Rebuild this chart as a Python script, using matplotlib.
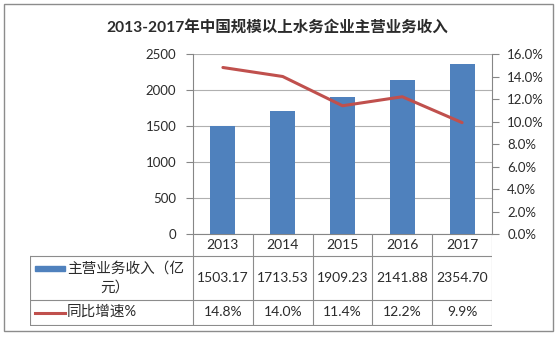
import matplotlib.pyplot as plt
from matplotlib.patches import Rectangle

plt.rcParams['font.family'] = ['Lato', 'Noto Sans CJK SC']

# 数据
years = ['2013', '2014', '2015', '2016', '2017']
revenue = [1503.17, 1713.53, 1909.23, 2141.88, 2354.70]   # 亿元
growth = [14.8, 14.0, 11.4, 12.2, 9.9]                      # %

title = '2013-2017年中国规模以上水务企业主营业务收入'
bar_label = ['主营业务收入（亿', '元）']
line_label = '同比增速%'

BLUE = '#4F81BD'
RED = '#C0504D'
GRID = '#b0b0b0'
TXT = '#2b2b2b'

# 画布尺寸（像素）
W, H = 557, 343
fig = plt.figure(figsize=(W / 100, H / 100), dpi=100)


def box(x0, y0, x1, y1):
    # 像素坐标(左上角原点) -> figure 比例
    return [x0 / W, 1 - y1 / H, (x1 - x0) / W, (y1 - y0) / H]


# 外框
fig.add_artist(Rectangle((4 / W, 1 - 331 / H), 549 / W, 327 / H,
                         transform=fig.transFigure, fill=False,
                         ec='#8c8c8c', lw=1))

fig.text(277 / W, 1 - 27 / H, title, ha='center', va='center',
         fontsize=11.2, fontweight='bold', color=TXT)

# 主图：柱状 + 折线
ax = fig.add_axes(box(193, 54, 492, 234))
x = list(range(len(years)))
ax.bar(x, revenue, width=0.42, color=BLUE, zorder=3)
ax.set_xlim(-0.5, len(years) - 0.5)
ax.set_ylim(0, 2500)
ax.set_yticks(range(0, 2501, 500))
ax.set_xticks([])
ax.grid(axis='y', color=GRID, lw=0.8, zorder=0)
ax.spines['top'].set_visible(False)
ax.spines['right'].set_visible(False)
ax.spines['left'].set_color('#868686')
ax.spines['bottom'].set_color('#868686')
ax.tick_params(axis='y', length=5, width=0.8, color='#868686',
               labelsize=9.5, labelcolor=TXT, pad=7)

ax2 = ax.twinx()
ax2.plot(x, growth, color=RED, lw=2.2, solid_capstyle='round')
ax2.set_ylim(0, 16)
ax2.set_yticks(range(0, 17, 2))
ax2.yaxis.set_major_formatter(lambda v, p: f'{v:.1f}%')
for s in ['top', 'left', 'bottom']:
    ax2.spines[s].set_visible(False)
ax2.spines['right'].set_color('#868686')
ax2.tick_params(axis='y', length=5, width=0.8, color='#868686',
                labelsize=9.5, labelcolor=TXT, pad=6)

# 数据表（像素坐标）
tab = fig.add_axes(box(30, 234, 492, 326))
tab.set_xlim(30, 492)
tab.set_ylim(326, 234)
tab.axis('off')

line_kw = dict(color='#8c8c8c', lw=0.8)
col0 = 193
col_w = (492 - 193) / len(years)
rows = [234, 256, 300, 325]

for i in range(len(years) + 1):
    tab.plot([col0 + i * col_w] * 2, [rows[0], rows[3]], **line_kw)
tab.plot([30, 30], [rows[1], rows[3]], **line_kw)
for r in rows[1:]:
    tab.plot([30, 492], [r, r], **line_kw)

for i, yr in enumerate(years):
    cx = col0 + (i + 0.5) * col_w
    tab.text(cx, (rows[0] + rows[1]) / 2, yr, ha='center', va='center',
             fontsize=10, color=TXT)
    tab.text(cx, (rows[1] + rows[2]) / 2, f'{revenue[i]:.2f}', ha='center',
             va='center', fontsize=10, color=TXT)
    tab.text(cx, (rows[2] + rows[3]) / 2, f'{growth[i]:.1f}%', ha='center',
             va='center', fontsize=10, color=TXT)

# 图例
tab.add_patch(Rectangle((35, 266), 30, 5, color=BLUE))
tab.text(67, 269, bar_label[0], ha='left', va='center', fontsize=10.5, color=TXT)
tab.text(100, 288, bar_label[1], ha='left', va='center', fontsize=10.5, color=TXT)
tab.plot([35, 65], [312.5, 312.5], color=RED, lw=2.2)
tab.text(67, 312, line_label, ha='left', va='center', fontsize=10.5, color=TXT)

fig.savefig('out.png', dpi=100, facecolor='white')
